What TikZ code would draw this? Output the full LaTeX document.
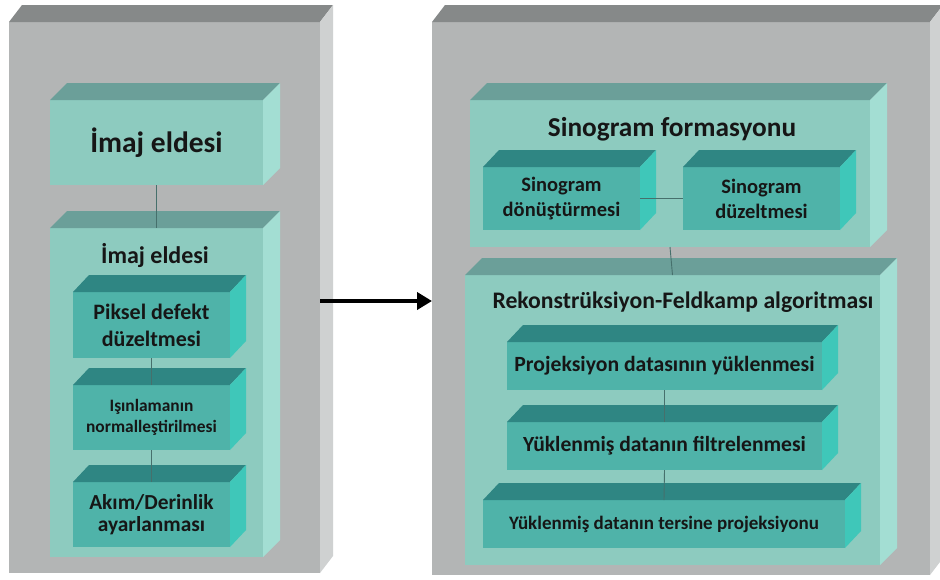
\documentclass[tikz,border=0pt]{standalone}
\usepackage{fontspec}
\setmainfont{Carlito}
\usetikzlibrary{arrows.meta,calc}
\definecolor{grF}{HTML}{B3B5B5}
\definecolor{grT}{HTML}{868989}
\definecolor{grS}{HTML}{CFD1D1}
\definecolor{ltF}{HTML}{8DCBBF}
\definecolor{ltT}{HTML}{6B9F99}
\definecolor{ltS}{HTML}{A3DED3}
\definecolor{dkF}{HTML}{4FB3A9}
\definecolor{dkT}{HTML}{2F8683}
\definecolor{dkS}{HTML}{3FC7B9}
\definecolor{txt}{HTML}{161616}
\definecolor{conn}{HTML}{46706C}
% #1 name, #2 class, #3 dx, #4 x1, #5 y1, #6 x2, #7 y2, #8 {size}{leading}, #9 text
\newcommand\cub[9]{%
  \node[face=#2F, minimum width={(#6-#4)*1pt}, minimum height={(#7-#5)*1pt},
        font=\bfseries\fontsize#8\selectfont] (#1) at (#4,#5) {#9};
  \fill[#2T] (#1.north west) -- ([shift={(#3pt,17pt)}]#1.north west)
     -- ([shift={(#3pt,17pt)}]#1.north east) -- (#1.north east) -- cycle;
  \fill[#2S] (#1.north east) -- ([shift={(#3pt,17pt)}]#1.north east)
     -- ([shift={(#3pt,17pt)}]#1.south east) -- (#1.south east) -- cycle;
}
\tikzset{
  face/.style={fill=#1, draw=none, inner sep=0pt, outer sep=0pt, anchor=north west,
               align=center, text=txt},
  title/.style={text=txt, inner sep=0pt, font=\bfseries\fontsize{#1}{#1}\selectfont},
  conn/.style={draw=conn, line width=0.9pt},
  bigarrow/.style={draw=black, line width=4pt, -{Triangle[length=15pt,width=17pt]}}
}
\begin{document}
\begin{tikzpicture}[x=1pt,y=-1pt]
\useasboundingbox (0,0) rectangle (940,579);
\fill[white] (0,0) rectangle (940,579);
% left panel
\cub{Lout}{gr}{13}{9}{22}{320}{573}{{10}{12}}{}
\cub{A}{lt}{17}{50}{100}{263}{185}{{29.5}{34}}{İmaj eldesi}
\cub{B}{lt}{17}{50}{228}{263}{557}{{10}{12}}{}
\node[title=24] (Btitle) at (155,255) {İmaj eldesi};
\cub{C}{dk}{16}{73}{292}{230}{358}{{22}{27}}{Piksel defekt\\düzeltmesi}
\cub{D}{dk}{16}{73}{385}{230}{450}{{17.4}{20.5}}{Işınlamanın\\normalleştirilmesi}
\cub{E}{dk}{16}{73}{482}{230}{547}{{21.4}{22.5}}{Akım/Derinlik\\ayarlanması}
% right panel
\cub{Rout}{gr}{13}{432}{22}{930}{575}{{10}{12}}{}
\cub{F}{lt}{17}{470}{100}{870}{247}{{10}{12}}{}
\node[title=27.3] (Ftitle) at (672,129) {Sinogram formasyonu};
\cub{G}{dk}{16}{483}{167}{640}{230}{{20.5}{25}}{Sinogram\\dönüştürmesi}
\cub{H}{dk}{16}{683}{167}{840}{230}{{20.5}{25}}{Sinogram\\düzeltmesi}
\cub{I}{lt}{17}{465}{275}{880}{565}{{10}{12}}{}
\node[title=23.7] (Ititle) at (683,302) {Rekonstrüksiyon-Feldkamp algoritması};
\cub{J}{dk}{16}{507}{342}{822}{390}{{21.7}{24}}{Projeksiyon datasının yüklenmesi}
\cub{K}{dk}{16}{507}{422}{822}{470}{{21.6}{24}}{Yüklenmiş datanın filtrelenmesi}
\cub{L}{dk}{16}{483}{500}{845}{548}{{19}{22}}{Yüklenmiş datanın tersine projeksiyonu}
% connectors
\draw[conn] (A.south) -- (B.north);
\draw[conn] (C.south) -- (D.north);
\draw[conn] (D.south) -- (E.north);
\draw[conn] (G.east) -- (H.west);
\draw[conn] (F.south) -- (I.north);
\draw[conn] (J.south) -- (K.north);
\draw[conn] (K.south) -- (L.north);
\coordinate (arrowy) at (0,301);
\draw[bigarrow] (Lout.east |- arrowy) -- (Rout.west |- arrowy);
\end{tikzpicture}
\end{document}
